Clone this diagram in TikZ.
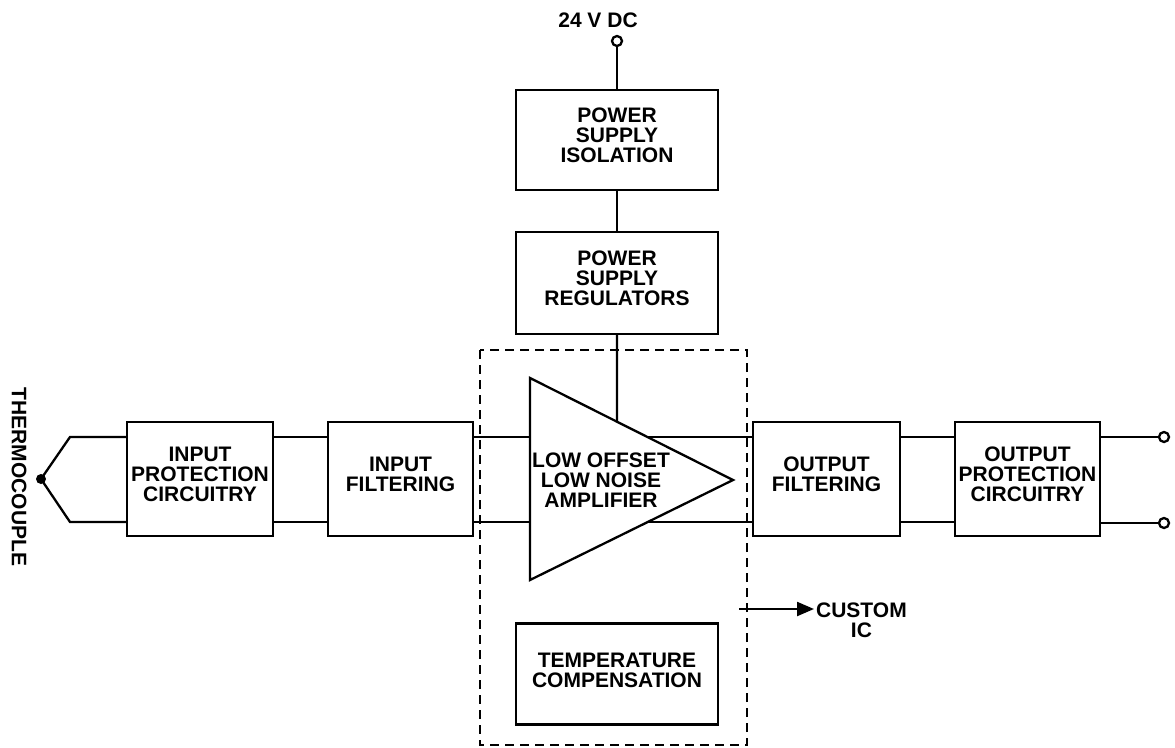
\documentclass[tikz,border=0pt]{standalone}
\usepackage{fontspec}
\setmainfont{Liberation Sans}
\usepackage{tikz}
\usetikzlibrary{positioning,arrows.meta}

\tikzset{
  block/.style={draw, line width=2.3pt, inner sep=0pt},
  blocktext/.style={align=center, yshift=5pt},
  term/.style={circle, draw, line width=2.3pt, fill=white, minimum size=10pt, inner sep=0pt}
}

\begin{document}
\begin{tikzpicture}[x=1pt, y=-1pt, line width=2.3pt, font=\bfseries\fontsize{21}{20}\selectfont]
  \useasboundingbox (0,0) rectangle (1175,747);

  % Rail heights of the signal path
  \coordinate (rt) at (0,437);
  \coordinate (rb) at (0,522);

  % Signal chain blocks
  \node[block, minimum width=146pt, minimum height=114pt,
        label={[blocktext]center:INPUT\\PROTECTION\\CIRCUITRY}] (ipc) at (200,479) {};
  \node[block, minimum width=145pt, minimum height=114pt,
        label={[blocktext]center:INPUT\\FILTERING}] (ifl) at (400.5,479) {};
  \node[block, minimum width=147pt, minimum height=114pt,
        label={[blocktext]center:OUTPUT\\FILTERING}] (ofl) at (826.5,479) {};
  \node[block, minimum width=145pt, minimum height=114pt,
        label={[blocktext]center:OUTPUT\\PROTECTION\\CIRCUITRY}] (opc) at (1027.5,479) {};

  % Power path
  \node (vdc) at (598,20) {24 V DC};
  \node[term] (vin) at (617,41) {};
  \node[block, minimum width=202pt, minimum height=100pt,
        label={[blocktext]center:POWER\\SUPPLY\\ISOLATION}] (psi) at (617,140) {};
  \node[block, minimum width=202pt, minimum height=102pt,
        label={[blocktext]center:POWER\\SUPPLY\\REGULATORS}] (psr) at (617,283) {};
  \draw (vin.south) -- (psi.north);
  \draw (psi.south) -- (psr.north);

  % Custom IC boundary
  \draw[dash pattern=on 9pt off 6pt] (480,350) rectangle (747,745);
  \node[block, minimum width=202pt, minimum height=101pt,
        label={[blocktext, yshift=-1pt]center:TEMPERATURE\\COMPENSATION}] (tc) at (617,674) {};

  % Amplifier triangle
  \coordinate (at) at (530,378);
  \coordinate (ab) at (530,580);
  \coordinate (ap) at (733,480);
  \draw (at) -- (ap) -- (ab) -- cycle;
  \node[align=center] (amp) at (601,480) {LOW OFFSET\\LOW NOISE\\AMPLIFIER};
  \draw (psr.south) -- (intersection of at--ap and psr.south--psr.north);

  % Thermocouple junction
  \node[rotate=-90] (thc) at (19,477) {THERMOCOUPLE};
  \coordinate (tj) at (41,479);
  \coordinate (tt) at (70,437);
  \coordinate (tb) at (70,522);
  \draw (ipc.west |- rt) -- (tt) -- (tj) -- (tb) -- (ipc.west |- rb);
  \fill (tj) circle (5);

  % Rails between blocks
  \draw (ipc.east |- rt) -- (ifl.west |- rt);
  \draw (ipc.east |- rb) -- (ifl.west |- rb);
  \draw (ifl.east |- rt) -- (at |- rt);
  \draw (ifl.east |- rb) -- (at |- rb);
  \coordinate (ao1) at (647,437);
  \coordinate (ao2) at (648,522);
  \draw (ao1) -- (ofl.west |- rt);
  \draw (ao2) -- (ofl.west |- rb);
  \draw (ofl.east |- rt) -- (opc.west |- rt);
  \draw (ofl.east |- rb) -- (opc.west |- rb);

  % Output terminals
  \node[term] (o1) at (1164,437) {};
  \node[term] (o2) at (1164,523) {};
  \draw (opc.east |- rt) -- (o1.west);
  \draw (opc.east |- o2) -- (o2.west);

  % Custom IC pointer
  \node[anchor=west, align=center, inner sep=1pt] (cic) at (814,620) {CUSTOM\\IC};
  \coordinate (cs) at (739,609);
  \draw[-{Triangle[length=17pt,width=14pt]}] (cs) -- (cic.west |- cs);

\end{tikzpicture}
\end{document}
